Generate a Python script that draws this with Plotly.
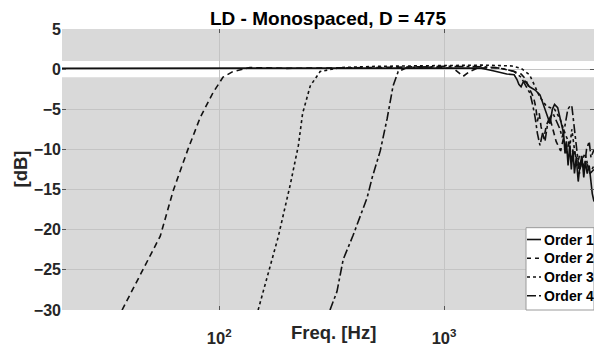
import numpy as np
import plotly.graph_objects as go

# ---------------- data ----------------
f1 = [20, 100, 300, 600, 1000, 1445, 1650, 1900, 2050, 2110, 2150, 2200, 2240, 2290, 2400,
      2540, 2670, 2760, 2850, 2960, 3030, 3100, 3200, 3300, 3400, 3450, 3500, 3560, 3620,
      3680, 3740, 3800, 3870, 3950, 4020, 4100, 4180, 4250, 4330, 4420, 4500, 4560, 4642]
d1 = [0.1, 0.1, 0.1, 0.15, 0.15, 0.15, -0.2, -0.6, -0.7, -1.3, -1.9, -2.2, -1.7, -1.5, -2.2,
      -2.6, -3.2, -4.3, -5.6, -6.8, -5.0, -4.4, -4.8, -6.5, -8.0, -10.5, -9.0, -12.0, -9.5,
      -12.5, -10.0, -13.0, -11.0, -14.0, -12.0, -10.8, -13.5, -11.5, -13.0, -12.0, -14.0, -15.5, -16.5]

f2 = [37, 45.9, 54.7, 62.5, 72.8, 82.4, 94, 104, 115, 137, 200, 500, 800, 1100, 1160, 1215,
      1300, 1400, 1700, 2000, 2200, 2300, 2410, 2500, 2560, 2600, 2650, 2700, 2780, 2850,
      2950, 3050, 3150, 3300, 3400, 3500, 3600, 3700, 3800, 3900, 4000, 4150, 4300, 4450, 4642]
d2 = [-30, -25, -20.8, -15.1, -9.9, -6.0, -2.9, -1.0, -0.3, 0.2, 0.1, 0.2, 0.3, 0.1, -0.5, -0.9,
      -0.3, 0.1, 0.2, -0.2, -0.6, -1.2, -2.6, -3.5, -4.8, -6.5, -5.5, -7.2, -8.6, -7.0,
      -6.0, -7.5, -9.0, -10.2, -8.5, -10.5, -9.0, -11.5, -10.0, -12.0, -10.8, -12.5, -11.5, -13.0, -12.5]

f3 = [149, 165, 183, 207, 225, 235, 254, 281, 345, 500, 1000, 1500, 2000, 2200, 2400, 2540,
      2670, 2850, 3100, 3280, 3450, 3630, 3700, 3820, 4020, 4230, 4450, 4642]
d3 = [-30, -25.5, -20.9, -14.4, -9.5, -5.5, -2.1, -0.3, 0.2, 0.35, 0.5, 0.5, 0.4, 0.1, -0.7, -2.1,
      -3.5, -4.6, -5.0, -6.2, -8.0, -9.5, -7.5, -10.5, -12.0, -10.5, -13.0, -12.0]

f4 = [311, 334, 356, 394, 455, 479, 520, 558, 593, 625, 685, 1000, 1500, 1800, 2050, 2200,
      2300, 2410, 2480, 2540, 2600, 2670, 2740, 2810, 2880, 2960, 3050, 3150, 3280, 3350,
      3450, 3550, 3650, 3700, 3750, 3820, 3900, 4000, 4100, 4200, 4300, 4420, 4500, 4642]
d4 = [-30, -27.7, -23.7, -20.7, -16.0, -13.5, -10.2, -6.2, -2.1, -0.3, 0.2, 0.35, 0.3, 0.1, -0.3, -1.0,
      -2.0, -3.0, -4.5, -6.0, -8.0, -9.5, -8.0, -9.0, -7.0, -6.0, -5.5, -6.5, -7.5, -8.5,
      -7.0, -5.0, -4.5, -4.6, -6.0, -8.0, -10.0, -13.0, -11.0, -12.5, -10.0, -9.0, -11.0, -10.0]

names = ["Order 1", "Order 2", "Order 3", "Order 4"]
dashes = ["solid", "6px,4px", "dot", "dashdot"]
legend_dashes = ["solid", "4px,4px", "dot", "dashdot"]

x_major = [100, 1000]
x_major_text = ["10<sup>2</sup>", "10<sup>3</sup>"]
x_minor = [20, 30, 40, 50, 60, 70, 80, 90, 200, 300, 400, 500, 600, 700, 800, 900,
           2000, 3000, 4000]
y_tickvals = [5, 0, -5, -10, -15, -20, -25, -30]

# ---------------- figure ----------------
L, R, T, B = 62, 0, 29, 33
W, H = 594, 347
PW, PH = W - L - R, H - T - B


def px(xp):
    return (xp - L) / PW


def py(yp):
    return (H - B - yp) / PH


fig = go.Figure()
for f, d, n, ds in zip([f1, f2, f3, f4], [d1, d2, d3, d4], names, dashes):
    fig.add_trace(go.Scatter(x=f, y=d, mode="lines", name=n, showlegend=False,
                             line=dict(color="#111111", width=1.6, dash=ds)))

# white tolerance band (+/- 1 dB)
fig.add_shape(type="rect", xref="paper", yref="y", x0=0, x1=1, y0=-1, y1=1,
              fillcolor="white", line=dict(width=0), layer="below")

font_family = "Liberation Sans, Arial, sans-serif"
xrange = [np.log10(20), np.log10(4642)]
fig.update_layout(
    width=W, height=H,
    margin=dict(l=L, r=R, t=T, b=B),
    paper_bgcolor="white", plot_bgcolor="#d9d9d9",
    font=dict(family=font_family, color="#262626"),
    title=dict(text="LD - Monospaced, D = 475", x=0.5, xref="paper", xanchor="center",
               y=1 - 18.5 / H, yanchor="middle",
               font=dict(size=19, weight="bold", color="#000000", family=font_family)),
    showlegend=False,
    xaxis=dict(type="log", range=xrange,
               tickvals=x_major, ticktext=x_major_text,
               ticks="inside", ticklen=4, tickcolor="#555555", mirror="ticks",
               showgrid=True, gridcolor="#c4c4c4", gridwidth=1,
               showline=False, zeroline=False,
               tickfont=dict(size=16.5, weight="bold", color="#262626"),
               ticklabelstandoff=16),
    xaxis2=dict(type="log", range=xrange, overlaying="x", anchor="y", side="bottom",
                tickvals=x_minor, showticklabels=False,
                ticks="inside", ticklen=4, tickcolor="#555555", mirror="ticks",
                showgrid=True, gridcolor="#cbcbcb", gridwidth=1,
                showline=False, zeroline=False),
    yaxis=dict(range=[-30, 5], tickvals=y_tickvals,
               ticks="inside", ticklen=4, tickcolor="#555555", mirror="ticks",
               showgrid=True, gridcolor="#c4c4c4", gridwidth=1,
               showline=False, zeroline=False,
               tickfont=dict(size=16, weight="bold", color="#262626")),
)

# axis labels
fig.add_annotation(text="Freq. [Hz]", xref="paper", yref="paper", x=px(333.5), y=py(336.5),
                   xanchor="center", yanchor="middle", showarrow=False,
                   font=dict(size=18.5, weight="bold", color="#262626"))
fig.add_annotation(text="[dB]", xref="paper", yref="paper", x=px(20.5), y=py(171),
                   xanchor="center", yanchor="middle", textangle=-90, showarrow=False,
                   font=dict(size=18.5, weight="bold", color="#262626"))

# legend box (at the right edge, as in the reference)
fig.add_shape(type="rect", xref="paper", yref="paper", x0=px(526), x1=1.0, y0=0, y1=py(230.5),
              fillcolor="white", line=dict(color="#9a9a9a", width=1), layer="above")
for i, (n, ds) in enumerate(zip(names, legend_dashes)):
    yc = 242.5 + i * 19
    fig.add_shape(type="line", xref="paper", yref="paper", x0=px(527), x1=px(541),
                  y0=py(yc), y1=py(yc), line=dict(color="#111111", width=1.6, dash=ds),
                  layer="above")
    fig.add_annotation(text=n, xref="paper", yref="paper", x=px(541.5), y=py(yc),
                       xanchor="left", yanchor="middle", showarrow=False,
                       font=dict(size=14, weight="bold", color="#000000"))

fig.write_html("out.html")
